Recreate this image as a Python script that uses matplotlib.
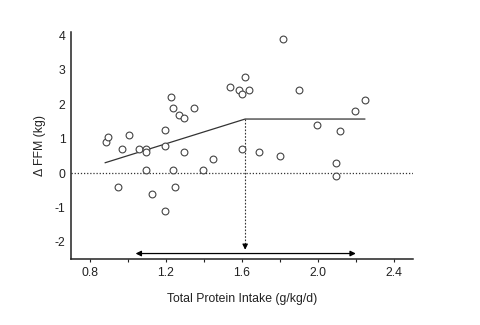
import matplotlib
matplotlib.use("Agg")
import matplotlib.pyplot as plt

plt.rcParams['font.family'] = ['Liberation Sans', 'DejaVu Sans']

# Data
protein = [0.884, 0.896, 0.967, 1.005, 1.056, 1.096, 1.096, 1.196, 1.196, 1.226,
           1.237, 1.267, 1.297, 1.297, 1.346, 1.447, 1.537, 1.586, 1.598, 1.617,
           1.637, 1.598, 1.69, 1.818, 1.898, 2.198, 2.247, 1.998, 2.119,
           1.798, 2.098, 1.096, 1.237, 1.397, 0.946, 1.126, 1.247, 1.196, 2.098]
dffm = [0.91, 1.04, 0.70, 1.10, 0.70, 0.70, 0.60, 1.26, 0.80, 2.20,
        1.89, 1.69, 1.60, 0.60, 1.89, 0.40, 2.50, 2.41, 2.30, 2.80,
        2.41, 0.70, 0.60, 3.90, 2.41, 1.81, 2.11, 1.40, 1.21,
        0.50, 0.30, 0.10, 0.10, 0.10, -0.40, -0.60, -0.40, -1.10, -0.10]

fit_x = [0.88, 1.617, 2.247]
fit_y = [0.30, 1.57, 1.57]

breakpoint_x = 1.617
breakpoint_y = 1.57
arrow_y_end = -2.23
range_x = [1.04, 2.20]
range_y = -2.34

xticks_major = [0.8, 1.2, 1.6, 2.0, 2.4]
xticks_minor = [1.0, 1.4, 1.8, 2.2]
yticks = [-2, -1, 0, 1, 2, 3, 4]

fig = plt.figure(figsize=(4.8, 3.25), dpi=100)
ax = fig.add_axes([0.148, 0.203, 0.712, 0.6985])

col = '#333333'
ax.axhline(0, color=col, lw=0.9, ls=(0, (1, 1.5)), zorder=1)
ax.plot(fit_x, fit_y, color=col, lw=0.9, zorder=2)
ax.scatter(protein, dffm, s=24, facecolors='white', edgecolors='#444444',
           linewidths=0.8, zorder=3)

# vertical dashed arrow from breakpoint
ax.plot([breakpoint_x, breakpoint_x], [breakpoint_y, arrow_y_end + 0.1],
        color=col, lw=0.8, ls=(0, (1.5, 1.5)), zorder=1)
ax.annotate('', xy=(breakpoint_x, arrow_y_end), xytext=(breakpoint_x, arrow_y_end + 0.12),
            arrowprops=dict(arrowstyle='-|>', color='black', lw=0.8,
                            mutation_scale=8, shrinkA=0, shrinkB=0))
# horizontal double arrow
ax.annotate('', xy=(range_x[0], range_y), xytext=(range_x[1], range_y),
            arrowprops=dict(arrowstyle='<|-|>', color='black', lw=0.9,
                            mutation_scale=8, shrinkA=0, shrinkB=0))

ax.set_xlim(0.7, 2.5)
ax.set_ylim(-2.5, 4.1)
ax.set_xticks(xticks_major)
ax.set_xticklabels(['0.8', '1.2', '1.6', '2.0', '2.4'])
ax.set_xticks(xticks_minor, minor=True)
ax.set_yticks(yticks)
ax.set_yticklabels([str(v) for v in yticks])
ax.tick_params(axis='x', which='both', direction='out', length=2.5, width=0.8,
               labelsize=8.8, pad=3, colors='#222222')
ax.tick_params(axis='y', length=0, labelsize=8.8, pad=4, colors='#222222')

for s in ['top', 'right']:
    ax.spines[s].set_visible(False)
for s in ['left', 'bottom']:
    ax.spines[s].set_linewidth(1.1)
    ax.spines[s].set_color('#222222')

ax.set_xlabel('Total Protein Intake (g/kg/d)', fontsize=8.8, labelpad=10, color='#222222')
ax.set_ylabel('Δ FFM (kg)', fontsize=8.8, labelpad=6, color='#222222')

fig.savefig('out.png', dpi=100)
